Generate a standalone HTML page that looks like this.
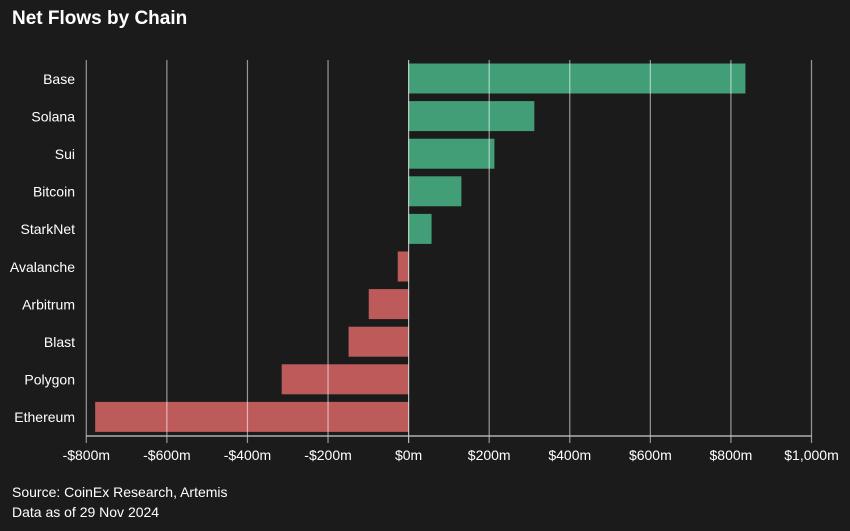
<!DOCTYPE html>
<html><head><meta charset="utf-8"><style>
body{margin:0;background:#1b1b1b;width:850px;height:531px;overflow:hidden;font-family:"Liberation Sans",sans-serif;color:#fff}
#title{position:absolute;left:12px;top:8px;font-size:19px;font-weight:bold;z-index:2}
.note{position:absolute;left:12px;font-size:14px;z-index:2}
</style></head><body>
<div id="title">Net Flows by Chain</div>
<svg id="chart" width="850" height="531" style="position:absolute;left:0;top:0"></svg>
<div class="note" style="top:484px">Source: CoinEx Research, Artemis</div>
<div class="note" style="top:504px">Data as of 29 Nov 2024</div>
<script>
const categories=["Base","Solana","Sui","Bitcoin","StarkNet","Avalanche","Arbitrum","Blast","Polygon","Ethereum"];
const values=[836,312,213,131,57,-27,-99,-149,-315,-778];
const ticks=[-800,-600,-400,-200,0,200,400,600,800,1000];
const tickLabels=["-$800m","-$600m","-$400m","-$200m","$0m","$200m","$400m","$600m","$800m","$1,000m"];
const NS="http://www.w3.org/2000/svg",svg=document.getElementById('chart');
const x0=86.3,x1=811.5,plotTop=60,plotBot=436;
const xs=v=>x0+(v+800)/1800*(x1-x0);
const band=(plotBot-plotTop)/categories.length;
const ys=i=>plotTop+i*band;
function mk(t,a){const e=document.createElementNS(NS,t);for(const k in a)e.setAttribute(k,a[k]);svg.appendChild(e);return e;}
categories.forEach((c,i)=>{
 const v=values[i];
 const r=mk('rect',{x:Math.min(xs(0),xs(v)),y:ys(i)+3.5,width:Math.abs(xs(v)-xs(0)),height:30,fill:v>=0?'#419e76':'#bd5b5b'});
 
 
 const t=mk('text',{x:75,y:ys(i)+band/2+5,'text-anchor':'end','font-size':14,fill:'#fff'});
 t.textContent=c;
 
 
});
ticks.forEach((v,i)=>{
 const g=mk('line',{x1:xs(v),x2:xs(v),y1:plotTop,y2:plotBot+7,stroke:'#fff','stroke-opacity':v===0?0.7:0.55,'stroke-width':1.2});
 
 
 const t=mk('text',{x:xs(v),y:460,'text-anchor':'middle','font-size':14,fill:'#fff'});
 t.textContent=tickLabels[i];
 
 
});
const ax=mk('line',{x1:x0,x2:x1,y1:plotBot,y2:plotBot,stroke:'#ccc','stroke-width':1.2});


</script>
</body></html>
